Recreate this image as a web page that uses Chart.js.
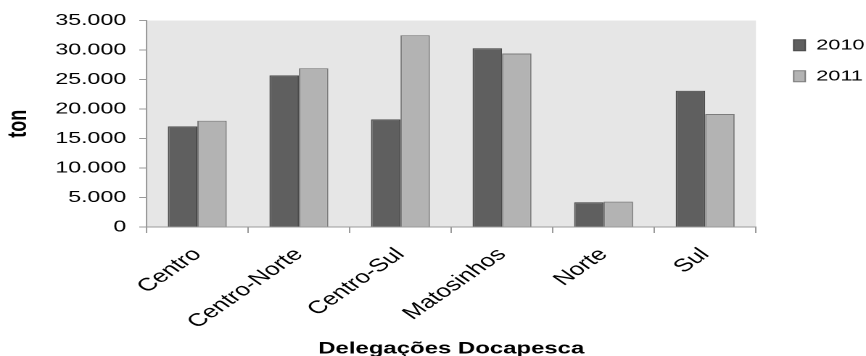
<!DOCTYPE html>
<html>
<head>
<meta charset="utf-8">
<script src="https://cdn.jsdelivr.net/npm/chart.js@4"></script>
<style>
  html, body { margin: 0; padding: 0; background: #fff; overflow: hidden; }
  /* the source picture is a spreadsheet chart stretched sideways; draw narrow, then widen */
  #wrap { width: 597px; height: 356px; transform: scaleX(1.4506); transform-origin: 0 0; }
</style>
</head>
<body>
<div id="wrap"><canvas id="c"></canvas></div>
<script>
// Desembarques por delegação (ton)
const categories = ["Centro", "Centro-Norte", "Centro-Sul", "Matosinhos", "Norte", "Sul"];
const years = ["2010", "2011"];
const tons2010 = [17050, 25700, 18250, 30300, 4200, 23100];
const tons2011 = [18000, 26900, 32500, 29400, 4300, 19150];

const FONT = "'Liberation Sans', Arial, sans-serif";

// grey plot area like the original spreadsheet chart
const plotBg = {
  id: "plotBg",
  beforeDraw(chart) {
    const { ctx, chartArea: a } = chart;
    ctx.save();
    ctx.fillStyle = "#e6e6e6";
    ctx.fillRect(a.left, a.top, a.right - a.left, a.bottom - a.top);
    ctx.restore();
  }
};

const fmt = v => String(v).replace(/\B(?=(\d{3})+(?!\d))/g, ".");

new Chart(document.getElementById("c"), {
  type: "bar",
  data: {
    labels: categories,
    datasets: [
      { label: years[0], data: tons2010, backgroundColor: "#5f5f5f", borderColor: "#4a4a4a", borderWidth: 1 },
      { label: years[1], data: tons2011, backgroundColor: "#b3b3b3", borderColor: "#7c7c7c", borderWidth: 1 }
    ]
  },
  options: {
    responsive: true, maintainAspectRatio: false, animation: false,
    devicePixelRatio: 2,
    layout: { padding: { top: 20.5, right: -9, left: 0, bottom: -3 } },
    datasets: { bar: { categoryPercentage: 0.58, barPercentage: 1 } },
    plugins: {
      legend: {
        position: "right", align: "start",
        title: { display: true, text: " ", font: { size: 1 }, padding: 0 },
        labels: { color: "#000", font: { family: FONT, size: 15 }, boxWidth: 8, boxHeight: 11, padding: 16 }
      },
      tooltip: { enabled: false }
    },
    scales: {
      x: {
        grid: { display: true, drawOnChartArea: false, drawTicks: true, tickLength: 6, color: "#9a9a9a", offset: true },
        border: { color: "#9a9a9a" },
        ticks: { color: "#000", font: { family: FONT, size: 18 }, minRotation: 45, maxRotation: 45, padding: 11 },
        title: { display: true, text: "Delegações Docapesca", color: "#000", font: { family: FONT, size: 16.5, weight: "bold" }, padding: { top: 0, bottom: 0 } },
        afterFit(s) { s.height = 132; }
      },
      y: {
        min: 0, max: 35000,
        grid: { display: true, drawOnChartArea: false, drawTicks: true, tickLength: 5, color: "#9a9a9a" },
        border: { color: "#9a9a9a" },
        ticks: { stepSize: 5000, color: "#000", font: { family: FONT, size: 16 }, padding: 9, callback: v => fmt(v) },
        title: { display: true, text: "ton", color: "#000", font: { family: FONT, size: 18, weight: "bold" }, padding: { top: 2, bottom: 14 } }
      },
      // empty spacer between plot area and legend
      gap: {
        position: "right", display: true,
        grid: { display: false, drawTicks: false }, border: { display: false }, ticks: { display: false },
        afterFit(s) { s.width = 10; }
      }
    }
  },
  plugins: [plotBg]
});
</script>
</body>
</html>
